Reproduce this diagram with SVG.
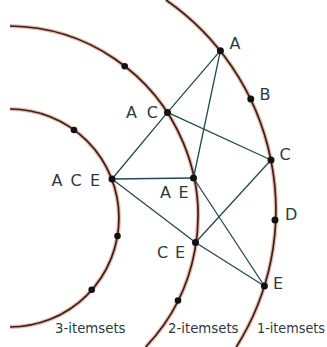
<svg xmlns="http://www.w3.org/2000/svg" width="327" height="347" viewBox="0 0 327 347">
<style>
.halo{fill:none;stroke:#d9896d;stroke-width:4.2;stroke-opacity:0.55}
.arc{fill:none;stroke:#3a1f1b;stroke-width:1.7}
.edge{stroke:#1f4a52;stroke-width:1.3;fill:none}
.dot{fill:#111}
.lbl{font-family:"DejaVu Sans",sans-serif;font-size:16px;fill:#2d3a40}
.lvl{font-family:"DejaVu Sans",sans-serif;font-size:13.3px;fill:#2d3a40}
</style>
<rect width="327" height="347" fill="#ffffff"/>
<g id="levels">
<path class="halo" d="M10,109 A109,109 0 0 1 10,327"/>
<path class="halo" d="M10,26 A190,190 0 0 1 145.6,347"/>
<path class="halo" d="M166,0 A256,256 0 0 1 236.3,347"/>
<path class="arc" d="M10,109 A109,109 0 0 1 10,327"/>
<path class="arc" d="M10,26 A190,190 0 0 1 145.6,347"/>
<path class="arc" d="M166,0 A256,256 0 0 1 236.3,347"/>
<circle class="dot" cx="74" cy="130" r="3.3"/>
<circle class="dot" cx="117.5" cy="236" r="3.3"/>
<circle class="dot" cx="91.7" cy="289.7" r="3.3"/>
<circle class="dot" cx="124.7" cy="66.3" r="3.3"/>
<circle class="dot" cx="178" cy="300.5" r="3.3"/>
<text class="lvl" x="55" y="333">3-itemsets</text>
<text class="lvl" x="168" y="333">2-itemsets</text>
<text class="lvl" x="257" y="333" textLength="68" lengthAdjust="spacingAndGlyphs">1-itemsets</text>
</g>
<g id="connectors">
<line class="edge" x1="220.4" y1="50.7" x2="167.5" y2="112.4"/>
<line class="edge" x1="220.4" y1="50.7" x2="193.5" y2="178"/>
<line class="edge" x1="167.5" y1="112.4" x2="271" y2="160"/>
<line class="edge" x1="193.5" y1="178" x2="264.4" y2="286"/>
<line class="edge" x1="195.5" y1="242.5" x2="271" y2="160"/>
<line class="edge" x1="195.5" y1="242.5" x2="264.4" y2="286"/>
<line class="edge" x1="112" y1="179" x2="167.5" y2="112.4"/>
<line class="edge" x1="112" y1="179" x2="193.5" y2="178"/>
<line class="edge" x1="112" y1="179" x2="195.5" y2="242.5"/>
</g>
<g id="A"><circle class="dot" cx="220.4" cy="50.7" r="3.5"/><text class="lbl" x="229.5" y="48.5">A</text></g>
<g id="B"><circle class="dot" cx="250.8" cy="98.9" r="3.5"/><text class="lbl" x="259.5" y="100">B</text></g>
<g id="C"><circle class="dot" cx="271" cy="160" r="3.5"/><text class="lbl" x="279.5" y="159.5">C</text></g>
<g id="D"><circle class="dot" cx="275" cy="220" r="3.5"/><text class="lbl" x="285" y="219.5">D</text></g>
<g id="E"><circle class="dot" cx="264.4" cy="286" r="3.5"/><text class="lbl" x="273" y="289">E</text></g>
<g id="AC"><circle class="dot" cx="167.5" cy="112.4" r="3.5"/><text class="lbl" x="126" y="118" textLength="32" lengthAdjust="spacing">A C</text></g>
<g id="AE"><circle class="dot" cx="193.5" cy="178" r="3.5"/><text class="lbl" x="160" y="197.5" textLength="28.5" lengthAdjust="spacing">A E</text></g>
<g id="CE"><circle class="dot" cx="195.5" cy="242.5" r="3.5"/><text class="lbl" x="157" y="257.5" textLength="28" lengthAdjust="spacing">C E</text></g>
<g id="ACE"><circle class="dot" cx="112" cy="179" r="3.5"/><text class="lbl" x="51.5" y="186" textLength="48.5" lengthAdjust="spacing">A C E</text></g>
</svg>
